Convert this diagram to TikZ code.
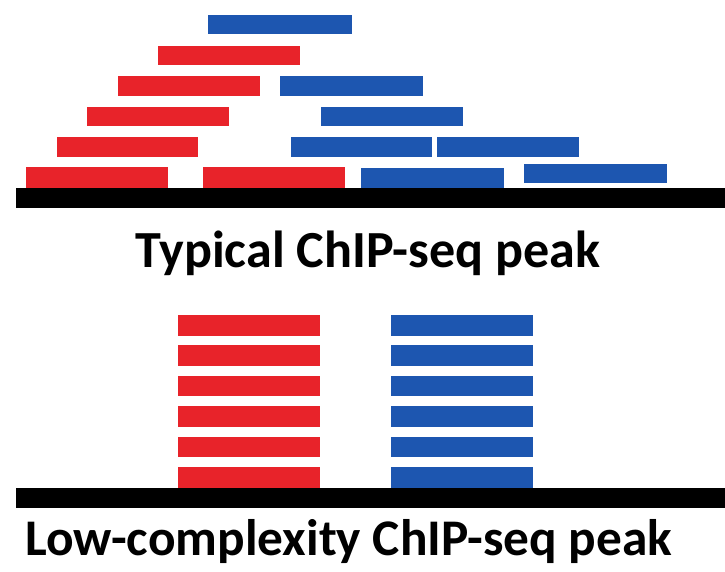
\documentclass[tikz,border=0pt]{standalone}
\usepackage{fontspec}
\setmainfont{Carlito}
\definecolor{rd}{HTML}{E8232A}
\definecolor{bl}{HTML}{1D56B0}
\begin{document}
\begin{tikzpicture}[x=1pt,y=-1pt,
  redbar/.style={fill=rd},
  bluebar/.style={fill=bl},
  dna/.style={fill=black},
  lbl/.style={anchor=base west,inner sep=0pt,font=\bfseries\fontsize{52}{56}\selectfont}]
\useasboundingbox (0,0) rectangle (725,571);
% top: typical peak
\fill[bluebar] (208,15) rectangle (352,34);
\fill[redbar] (158,46) rectangle (300,65);
\fill[redbar] (118,76) rectangle (260,96);
\fill[bluebar] (280,76) rectangle (423,96);
\fill[redbar] (87,107) rectangle (229,126);
\fill[bluebar] (321,107) rectangle (463,126);
\fill[redbar] (57,137) rectangle (198,157);
\fill[bluebar] (291,137) rectangle (432,157);
\fill[bluebar] (437,137) rectangle (579,157);
\fill[redbar] (26,167) rectangle (168,188);
\fill[redbar] (203,167) rectangle (345,188);
\fill[bluebar] (361,168) rectangle (504,188);
\fill[bluebar] (524,164) rectangle (667,183);
\fill[dna] (16,188) rectangle (725,208);
\node[lbl] (t1) at (135,267) {\resizebox{465pt}{!}{Typical ChIP-seq peak}};
% bottom: low-complexity peak
\foreach \i in {0,...,5}{
  \fill[redbar] (178,{315+30.4*\i}) rectangle (320,{335.5+30.4*\i});
  \fill[bluebar] (391,{315+30.4*\i}) rectangle (533,{335.5+30.4*\i});
}
\fill[dna] (16,488) rectangle (725,508);
\node[lbl] (t2) at (25,555) {\resizebox{647pt}{!}{Low-complexity ChIP-seq peak}};
\end{tikzpicture}
\end{document}
